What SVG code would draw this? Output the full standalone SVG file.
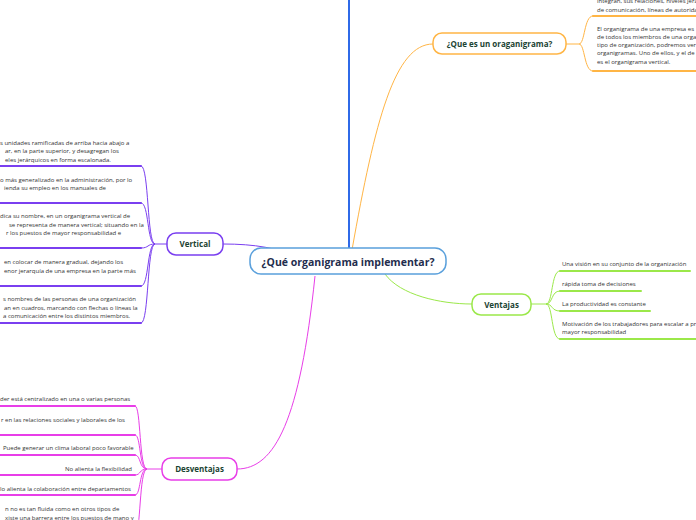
<svg xmlns="http://www.w3.org/2000/svg" width="696" height="520" viewBox="0 0 696 520">
<style>
.t{font-family:"Open Sans","DejaVu Sans",sans-serif;font-size:6px;fill:#333333}
.n{font-family:"Open Sans","DejaVu Sans",sans-serif;font-weight:bold;font-size:8px;fill:#1b4332;text-anchor:middle}
.c{font-family:"Open Sans","DejaVu Sans",sans-serif;font-weight:bold;font-size:10.5px;fill:#1f2d4d;text-anchor:middle}
.ul{fill:none;stroke-width:2;stroke-linecap:round}
.br{fill:none;stroke-width:1}
.pu{stroke:#7a3ff0}
.ma{stroke:#e83ee8}
.gr{stroke:#9be84a}
.or{stroke:#ffb545}
</style>
<rect width="696" height="520" fill="#ffffff"/>
<g id="connectors">
<path d="M349,0 L349,255" fill="none" stroke="#2f6ae8" stroke-width="2"/>
<path class="br or" d="M352,250 C375,120 395,44 433,44" stroke-width="1.2"/>
<path class="br pu" d="M223,244 C255,244 278,248 300,258" stroke-width="1.2"/>
<path class="br ma" d="M315,276 C300,420 275,469 237,469" stroke-width="1.2"/>
<path class="br gr" d="M385,274 C400,295 440,304 472,304" stroke-width="1.2"/>
<!-- orange children -->
<path class="br or" d="M566,44 L579,44"/>
<path class="br or" d="M579,44 C585,44 584,16 593,16"/>
<path class="br or" d="M579,44 C585,44 584,71 593,71"/>
<path class="ul or" d="M593,16 H700"/>
<path class="ul or" d="M593,71 H700"/>
<!-- ventajas children -->
<path class="br gr" d="M531,304 L546,304"/>
<path class="br gr" d="M546,304 C553,304 551,271 560,271"/>
<path class="br gr" d="M546,304 C553,304 551,291 560,291"/>
<path class="br gr" d="M546,304 C553,304 551,311 560,311"/>
<path class="br gr" d="M546,304 C553,304 551,339 560,339"/>
<path class="ul gr" d="M560,271 H690"/>
<path class="ul gr" d="M560,291 H641"/>
<path class="ul gr" d="M560,311 H650"/>
<path class="ul gr" d="M560,339 H700"/>
<!-- vertical children -->
<path class="br pu" d="M167,244 L155,244"/>
<path class="br pu" d="M155,244 C147,244 149,166 141,166"/>
<path class="br pu" d="M155,244 C147,244 149,203 141,203"/>
<path class="br pu" d="M155,244 C147,244 149,248 141,248"/>
<path class="br pu" d="M155,244 C147,244 149,286 141,286"/>
<path class="br pu" d="M155,244 C147,244 149,323 141,323"/>
<path class="ul pu" d="M-5,166 H141"/>
<path class="ul pu" d="M-5,203 H141"/>
<path class="ul pu" d="M-5,248 H141"/>
<path class="ul pu" d="M-5,286 H141"/>
<path class="ul pu" d="M-5,323 H141"/>
<!-- desventajas children -->
<path class="br ma" d="M162,469 L147,469"/>
<path class="br ma" d="M147,469 C139,469 141,406 135,406"/>
<path class="br ma" d="M147,469 C139,469 141,435 135,435"/>
<path class="br ma" d="M147,469 C139,469 141,455 135,455"/>
<path class="br ma" d="M147,469 C139,469 141,475 135,475"/>
<path class="br ma" d="M147,469 C139,469 141,495 135,495"/>
<path class="br ma" d="M147,469 C139,469 141,535 135,535"/>
<path class="ul ma" d="M-5,406 H135"/>
<path class="ul ma" d="M-5,435 H135"/>
<path class="ul ma" d="M-5,455 H135"/>
<path class="ul ma" d="M-5,475 H135"/>
<path class="ul ma" d="M-5,495 H135"/>
</g>
<g id="center">
<rect x="250" y="248" width="196" height="26" rx="11" fill="#ffffff" stroke="#5aa0dc" stroke-width="1.5"/>
<text class="c" x="348" y="265.5">¿Qué organigrama implementar?</text>
</g>
<g id="que-es">
<rect x="433" y="33" width="133" height="21" rx="9" fill="#ffffff" stroke="#ffb545" stroke-width="1.5"/>
<text class="n" x="499.5" y="47">¿Que es un oraganigrama?</text>
<text class="t" x="597" y="3">integran, sus relaciones, niveles jerá</text>
<text class="t" x="597" y="11.5">de comunicación, líneas de autorida</text>
<text class="t" x="597" y="30.5">El organigrama de una empresa es</text>
<text class="t" x="597" y="38.8">de todos los miembros de una orga</text>
<text class="t" x="597" y="47">tipo de organización, podremos ver</text>
<text class="t" x="597" y="55.3">organigramas. Uno de ellos, y el de</text>
<text class="t" x="597" y="63.5">es el organigrama vertical.</text>
</g>
<g id="ventajas">
<rect x="472" y="294" width="59" height="21" rx="9" fill="#ffffff" stroke="#9be84a" stroke-width="1.5"/>
<text class="n" x="501.5" y="307.5">Ventajas</text>
<text class="t" x="562" y="266">Una visión en su conjunto de la organización</text>
<text class="t" x="562" y="286">rápida  toma de decisiones</text>
<text class="t" x="562" y="305.5">La productividad es constante</text>
<text class="t" x="562" y="326">Motivación de los trabajadores para escalar a pr</text>
<text class="t" x="562" y="333.5">mayor responsabilidad</text>
</g>
<g id="vertical">
<rect x="167" y="233" width="56" height="22" rx="9" fill="#ffffff" stroke="#7a3ff0" stroke-width="1.5"/>
<text class="n" x="195" y="247">Vertical</text>
<text class="t" x="0" y="145">s unidades ramificadas de arriba hacia abajo a</text>
<text class="t" x="5" y="153">ar, en la parte superior, y desagregan los</text>
<text class="t" x="5" y="161.5">eles jerárquicos en forma escalonada.</text>
<text class="t" x="0" y="182">o más generalizado en la administración, por lo</text>
<text class="t" x="4" y="189.5">ienda su empleo en los manuales de</text>
<text class="t" x="0" y="218">dica su nombre, en un organigrama vertical de</text>
<text class="t" x="9" y="226.5">se representa de manera vertical; situando en la</text>
<text class="t" x="6" y="235">r los puestos de mayor responsabilidad e</text>
<text class="t" x="4" y="264">en colocar de manera gradual, dejando los</text>
<text class="t" x="4" y="273">enor jerarquía de una empresa en la parte más</text>
<text class="t" x="3" y="301">s nombres de las personas de una organización</text>
<text class="t" x="4" y="309.5">an en cuadros, marcando con flechas o líneas la</text>
<text class="t" x="3" y="318">a comunicación entre los distintos miembros.</text>
</g>
<g id="desventajas">
<rect x="162" y="458" width="75" height="22" rx="9" fill="#ffffff" stroke="#e83ee8" stroke-width="1.5"/>
<text class="n" x="199.5" y="472">Desventajas</text>
<text class="t" x="0" y="401">der está centralizado en una o varias personas</text>
<text class="t" x="1" y="422">r en las relaciones sociales y laborales de los</text>
<text class="t" x="3" y="450">Puede generar un clima laboral poco favorable</text>
<text class="t" x="132" y="470.5" text-anchor="end">No alienta la flexibilidad</text>
<text class="t" x="0" y="490.5">lo alienta  la colaboración entre departamentos</text>
<text class="t" x="5" y="510.5">n no es tan fluida como en otros tipos de</text>
<text class="t" x="5" y="519.5">xiste una barrera entre los puestos de mano y</text>
</g>
</svg>
